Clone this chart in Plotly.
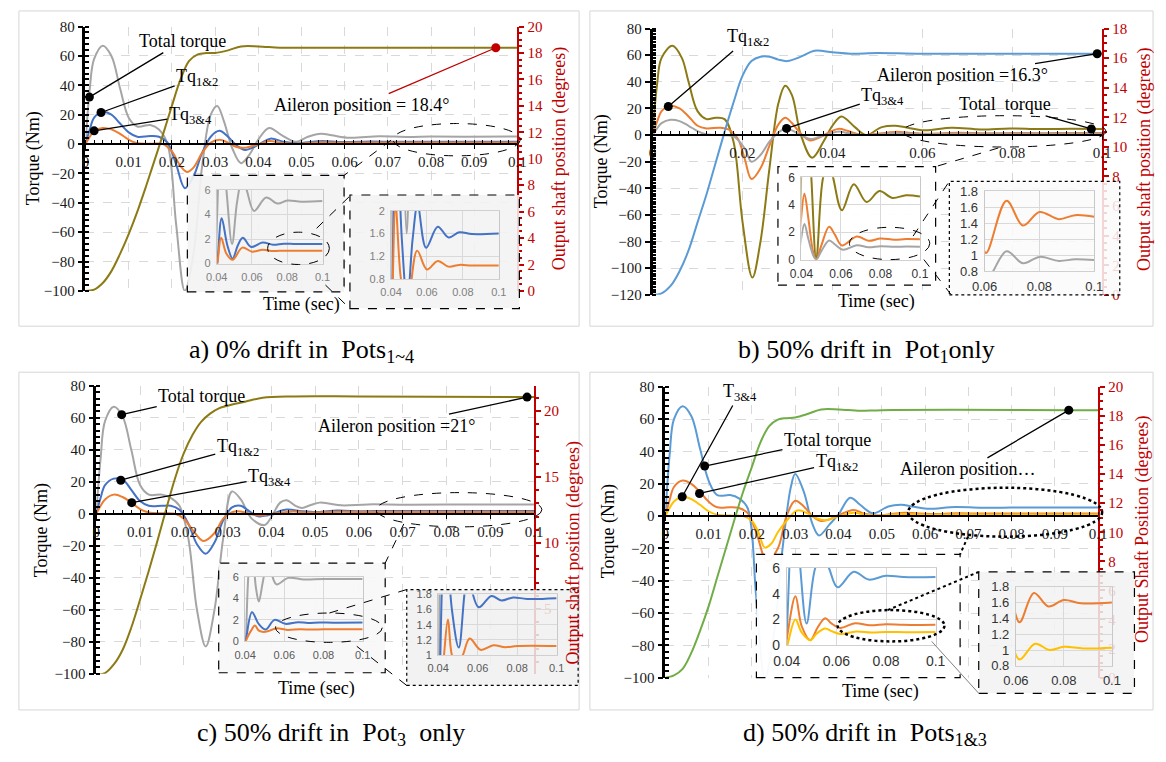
import plotly.graph_objects as go

# ------------------------------------------------------------------ data
# panel a) 0% drift
a_total_t = [0, 0.001, 0.002, 0.004, 0.006, 0.008, 0.010, 0.012, 0.015, 0.017, 0.019, 0.021, 0.023, 0.025, 0.027, 0.029, 0.0305, 0.032, 0.034, 0.036, 0.038, 0.040, 0.0425, 0.0455, 0.0487, 0.0515, 0.0545, 0.057, 0.0612, 0.068, 0.0745, 0.080, 0.088, 0.1]
a_total_v = [0, 38, 58, 67, 60, 38, 18, 12, 13, 10, 0, -55, -100, -75, -15, 20, 26, 16, -3, -13, -7, 3, 11, 6, 1.6, 5, 7, 6, 4.3, 5.4, 4.9, 5.15, 5.05, 5.1]
a_tq12_t = [0, 0.001, 0.002, 0.004, 0.006, 0.008, 0.010, 0.012, 0.015, 0.017, 0.019, 0.021, 0.023, 0.025, 0.027, 0.029, 0.031, 0.033, 0.035, 0.037, 0.039, 0.0405, 0.0428, 0.046, 0.049, 0.052, 0.0548, 0.0595, 0.066, 0.072, 0.078, 0.085, 0.1]
a_tq12_v = [0, 10, 18, 22, 20, 14, 8, 5, 5.5, 5, 1, -14, -30, -22, -6, 5, 9, 5, -1, -4, -2, 0.3, 3.7, 1.5, 0.4, 1.5, 2.1, 1.35, 1.72, 1.53, 1.62, 1.59, 1.6]
a_tq34_t = [0, 0.001, 0.002, 0.004, 0.006, 0.008, 0.010, 0.012, 0.015, 0.018, 0.020, 0.022, 0.0235, 0.025, 0.027, 0.029, 0.031, 0.033, 0.035, 0.037, 0.039, 0.0405, 0.0425, 0.0455, 0.049, 0.0545, 0.060, 0.066, 0.072, 0.078, 0.085, 0.1]
a_tq34_v = [0, 5, 9, 11, 10, 7, 3, 0.5, 0.2, 0, -5, -15, -19, -16, -6, 1, 3, 1, -2, -2.5, -1, 0.2, 2.1, 0.8, 0.3, 1.3, 0.97, 1.12, 1.02, 1.05, 1.04, 1.04]
a_ail_t = [0, 0.002, 0.004, 0.006, 0.008, 0.010, 0.012, 0.014, 0.016, 0.018, 0.020, 0.022, 0.024, 0.026, 0.028, 0.030, 0.033, 0.036, 0.040, 0.045, 0.05, 0.1]
a_ail_v = [0, 0.1, 0.6, 1.5, 2.8, 4.3, 6.0, 7.9, 9.9, 11.9, 14.0, 16.0, 17.4, 17.9, 18.0, 18.0, 18.2, 18.5, 18.5, 18.4, 18.4, 18.4]
a_call_t = [0.0009, 0.0036, 0.002, 0.095]
a_call_v = [32, 21.5, 9, 18.4]

# panel b) 50% drift in Pot1
b_total_t = [0, 0.001, 0.002, 0.0044, 0.0065, 0.008, 0.010, 0.012, 0.014, 0.016, 0.018, 0.020, 0.0222, 0.024, 0.026, 0.028, 0.0295, 0.031, 0.033, 0.0355, 0.038, 0.040, 0.042, 0.045, 0.0475, 0.051, 0.054, 0.056, 0.0605, 0.0665, 0.073, 0.0795, 0.086, 0.093, 0.1]
b_total_v = [0, 38, 58, 67, 58, 40, 18, 12, 13, 12, -5, -65, -107, -80, -25, 24, 37, 30, 0, -17, -5, 7, 14, 6, 0, 6, 7, 6, 3.6, 5.5, 4.2, 5.0, 4.5, 4.7, 4.6]
b_tq12_t = [0, 0.001, 0.002, 0.004, 0.006, 0.008, 0.010, 0.012, 0.015, 0.017, 0.019, 0.0205, 0.022, 0.024, 0.026, 0.028, 0.0295, 0.031, 0.033, 0.035, 0.037, 0.0395, 0.0415, 0.0435, 0.046, 0.0475, 0.050, 0.054, 0.057, 0.0605, 0.068, 0.074, 0.080, 0.087, 0.093, 0.1]
b_tq12_v = [0, 10, 18, 22, 20, 14, 7, 5, 5.5, 4, -3, -18, -33, -25, -8, 8, 13, 9, 1, -4, -2, 2.5, 4.8, 3, 0.5, 0, 1, 2.4, 1.8, 1.03, 1.68, 1.37, 1.54, 1.45, 1.5, 1.48]
b_tq34_t = [0, 0.001, 0.002, 0.004, 0.006, 0.008, 0.010, 0.012, 0.015, 0.018, 0.0205, 0.022, 0.024, 0.026, 0.028, 0.0295, 0.031, 0.033, 0.035, 0.037, 0.0395, 0.0415, 0.0435, 0.046, 0.0475, 0.050, 0.054, 0.057, 0.061, 0.068, 0.074, 0.080, 0.087, 0.093, 0.1]
b_tq34_v = [0, 5, 9, 11.5, 10.5, 7, 3, 0.5, 0, -1, -10, -20, -15, -5, 2, 5, 3.5, 0, -3, -1.5, 1.2, 2.6, 1.5, 0.3, 0, 0.6, 1.4, 1.1, 0.72, 1.05, 0.9, 0.98, 0.93, 0.95, 0.94]
b_ail_t = [0, 0.002, 0.004, 0.006, 0.008, 0.010, 0.012, 0.014, 0.016, 0.018, 0.020, 0.022, 0.024, 0.026, 0.028, 0.030, 0.033, 0.036, 0.040, 0.044, 0.050, 0.060, 0.1]
b_ail_v = [0, 0.1, 0.6, 1.6, 3.0, 4.9, 6.8, 8.9, 11.0, 13.0, 14.8, 15.8, 16.1, 16.1, 15.9, 15.8, 16.1, 16.5, 16.4, 16.3, 16.35, 16.3, 16.3]
b_call_t = [0.0035, 0.0298, 0.0976, 0.0989]
b_call_v = [21.5, 5, 4.6, 16.3]

# panel c) 50% drift in Pot3
c_total_t = [0, 0.001, 0.002, 0.004, 0.006, 0.008, 0.010, 0.012, 0.015, 0.017, 0.019, 0.021, 0.023, 0.025, 0.027, 0.029, 0.031, 0.033, 0.0355, 0.0385, 0.040, 0.042, 0.0435, 0.0455, 0.047, 0.049, 0.051, 0.053, 0.056, 0.062, 0.07, 0.08, 0.1]
c_total_v = [0, 35, 58, 67, 61, 40, 18, 12, 12, 10, 5, -15, -60, -83, -60, -15, 14, 9, -3, -7, -2, 7, 8.5, 5, 3.7, 5.5, 7, 6.5, 5.3, 5.9, 5.75, 5.8, 5.8]
c_tq12_t = [0, 0.001, 0.002, 0.004, 0.006, 0.008, 0.010, 0.012, 0.015, 0.017, 0.019, 0.021, 0.023, 0.025, 0.027, 0.029, 0.031, 0.033, 0.035, 0.037, 0.039, 0.0405, 0.0435, 0.047, 0.0505, 0.055, 0.0605, 0.067, 0.072, 0.078, 0.085, 0.1]
c_tq12_v = [0, 10, 18, 22, 21.5, 15, 8, 5, 5, 5, 2.5, -6, -19, -25, -18, -4, 4, 5, 1.5, -1.5, -1, 0.3, 2.7, 1.6, 1.1, 2.0, 1.63, 1.78, 1.72, 1.76, 1.74, 1.75]
c_tq34_t = [0, 0.001, 0.002, 0.004, 0.006, 0.008, 0.010, 0.012, 0.015, 0.018, 0.020, 0.022, 0.0245, 0.027, 0.029, 0.031, 0.033, 0.035, 0.037, 0.039, 0.041, 0.043, 0.045, 0.047, 0.0495, 0.0525, 0.056, 0.0615, 0.068, 0.074, 0.08, 0.1]
c_tq34_v = [0, 5, 9, 12, 10.5, 7, 3, 0.8, 0.3, 0, -3, -10, -17, -12, -3, 1, 1.5, 0, -1, -0.5, 0.3, 1.0, 1.47, 1.0, 0.88, 1.0, 1.22, 1.07, 1.13, 1.105, 1.12, 1.12]
c_ail_t = [0, 0.002, 0.004, 0.006, 0.008, 0.010, 0.012, 0.014, 0.016, 0.018, 0.020, 0.022, 0.024, 0.026, 0.028, 0.030, 0.034, 0.038, 0.045, 0.06, 0.1]
c_ail_v = [0, 0.15, 0.8, 1.9, 3.6, 5.7, 7.9, 10.2, 12.6, 14.9, 16.8, 18.2, 19.2, 19.8, 20.2, 20.4, 20.7, 21.0, 21.1, 21.1, 21.05]
c_call_t = [0.0058, 0.0056, 0.0081, 0.0984]
c_call_v = [62, 21, 7, 21.05]

# panel d) 50% drift in Pots1&3
d_total_t = [0, 0.001, 0.002, 0.004, 0.006, 0.008, 0.010, 0.012, 0.015, 0.017, 0.019, 0.021, 0.023, 0.025, 0.027, 0.029, 0.030, 0.032, 0.034, 0.0355, 0.038, 0.040, 0.0427, 0.045, 0.048, 0.0515, 0.0545, 0.057, 0.0605, 0.067, 0.073, 0.080, 0.087, 0.1]
d_total_v = [0, 38, 60, 68, 62, 42, 22, 13, 13, 11, 5, -50, -100, -75, -22, 18, 26, 15, -5, -12, -5, 1, 11.4, 7, 1.7, 6, 7, 6, 4.5, 5.7, 5.1, 5.4, 5.3, 5.3]
d_tq12_t = [0, 0.001, 0.002, 0.004, 0.006, 0.008, 0.010, 0.012, 0.015, 0.017, 0.019, 0.021, 0.0235, 0.026, 0.028, 0.030, 0.032, 0.034, 0.036, 0.038, 0.040, 0.0435, 0.046, 0.0495, 0.0525, 0.0555, 0.058, 0.0615, 0.0675, 0.0735, 0.080, 0.087, 0.1]
d_tq12_v = [0, 10, 18, 22, 20, 15, 9, 5.5, 5.5, 5, 2, -10, -28, -20, 0, 9.5, 6, 0, -3, -2, 0.5, 3.8, 1.5, 0.4, 1.4, 2.1, 1.7, 1.35, 1.72, 1.55, 1.63, 1.59, 1.6]
d_tq34_t = [0, 0.001, 0.002, 0.004, 0.006, 0.008, 0.010, 0.012, 0.015, 0.018, 0.020, 0.0215, 0.023, 0.0245, 0.026, 0.028, 0.0305, 0.033, 0.035, 0.037, 0.039, 0.0405, 0.0435, 0.046, 0.0495, 0.052, 0.0555, 0.058, 0.0615, 0.068, 0.074, 0.080, 0.088, 0.1]
d_tq34_v = [0, 5, 9, 12, 10.5, 7, 3, 0.8, 0.3, 0, -3, -10, -19.5, -17, -10, -3, 3.5, 1.5, -1.5, -2.5, -1, 0.2, 2.0, 1.0, 0.4, 0.9, 1.3, 1.1, 0.88, 1.08, 1.0, 1.04, 1.02, 1.03]
d_ail_t = [0, 0.002, 0.004, 0.006, 0.008, 0.010, 0.012, 0.014, 0.016, 0.018, 0.020, 0.022, 0.024, 0.026, 0.028, 0.030, 0.033, 0.036, 0.040, 0.045, 0.05, 0.1]
d_ail_v = [0, 0.15, 0.6, 1.7, 3.2, 4.9, 6.9, 8.9, 10.9, 12.8, 14.5, 16.2, 17.3, 17.75, 17.85, 17.9, 18.15, 18.45, 18.45, 18.35, 18.4, 18.4]
d_call_t = [0.0039, 0.0091, 0.0079, 0.0932]
d_call_v = [12, 31, 14, 18.4]

captions = ["a) 0% drift in  Pots<sub>1~4</sub>", "b) 50% drift in  Pot<sub>1</sub>only",
            "c) 50% drift in  Pot<sub>3</sub>  only", "d) 50% drift in  Pots<sub>1&amp;3</sub>"]

# ------------------------------------------------------------------ style
W, H = 1166, 762
SERIF = "Liberation Serif"
SANS = "Liberation Sans"
GRAY, BLUE, LBLUE = "#a5a5a5", "#4472c4", "#5b9bd5"
ORANGE, YELLOW, GREEN = "#ed7d31", "#ffc000", "#70ad47"
OLIVE, RED = "#8c7a14", "#c00000"

fig = go.Figure()
layout = {}
shapes = []
annots = []
cnt = {"x": 0, "y": 0}


def nxt(k):
    cnt[k] += 1
    return cnt[k]


def key(k, n):
    return f"{k}axis" + ("" if n == 1 else str(n))


def ref(k, n):
    return k + ("" if n == 1 else str(n))


def fx(px):
    return px / W


def fy(py):
    return 1 - py / H


def line_shape(x0, y0, x1, y1, dash="dash", color="black", width=1):
    shapes.append(dict(type="line", xref="paper", yref="paper", x0=fx(x0), y0=fy(y0), x1=fx(x1), y1=fy(y1),
                       line=dict(color=color, width=width, dash=dash), layer="above"))


def ellipse(x0, y0, x1, y1, dash="dash", width=1):
    shapes.append(dict(type="circle", xref="paper", yref="paper", x0=fx(x0), y0=fy(y1), x1=fx(x1), y1=fy(y0),
                       line=dict(color="black", width=width, dash=dash), layer="above"))


def text(x, y, s, size=18, color="black", angle=0, family=SERIF):
    annots.append(dict(x=fx(x), y=fy(y), xref="paper", yref="paper", text=s, showarrow=False, textangle=angle,
                       font=dict(family=family, size=size, color=color), xanchor="center", yanchor="middle"))


def build(P):
    x0, x1, y0, y1 = P["plot"]
    lo, hi = P["yrange"]
    yzero = y0 + hi / (hi - lo) * (y1 - y0)
    xn, yn, y2n = nxt("x"), nxt("y"), nxt("y")
    tickfont = dict(family=SERIF, size=15, color="#1a1a1a")
    layout[key("x", xn)] = dict(
        domain=[fx(x0), fx(x1)], range=[0, 0.1], anchor="free", position=fy(yzero), tick0=0, dtick=P["xdt"],
        showline=True, linecolor="black", linewidth=2, ticks="outside", ticklen=4, tickcolor="black",
        minor=dict(dtick=0.002, ticks="inside", ticklen=3, tickcolor="black", showgrid=False),
        showgrid=True, gridcolor="#d9d9d9", griddash="dash", zeroline=False, tickfont=tickfont)
    layout[key("y", yn)] = dict(
        domain=[fy(y1), fy(y0)], range=[lo, hi], anchor=ref("x", xn), tick0=0, dtick=20,
        showline=True, linecolor="black", linewidth=2.5, ticks="outside", ticklen=5, tickcolor="black",
        tickwidth=1.5,
        minor=dict(dtick=P["ymin"], ticks="inside", ticklen=4, tickcolor="black", showgrid=False),
        showgrid=True, gridcolor="#d9d9d9", griddash="dash", zeroline=False, tickfont=tickfont)
    layout[key("y", y2n)] = dict(
        overlaying=ref("y", yn), side="right", anchor=ref("x", xn), range=P["y2range"], tick0=0,
        dtick=P["y2dt"], showline=True, linecolor=RED, linewidth=2, ticks="outside", ticklen=5, tickcolor=RED,
        tickwidth=1.5,
        minor=dict(dtick=P["y2min"], ticks="outside", ticklen=3, tickcolor=RED, showgrid=False),
        showgrid=False, zeroline=False, tickfont=dict(family=SERIF, size=15, color=RED))
    X, Y, Y2 = ref("x", xn), ref("y", yn), ref("y", y2n)
    for t, v, c in P["series"]:
        fig.add_trace(go.Scatter(x=t, y=v, mode="lines", line=dict(color=c, width=2, shape="spline"),
                                 xaxis=X, yaxis=Y, hoverinfo="skip", showlegend=False))
    t, v, c = P["ail"]
    fig.add_trace(go.Scatter(x=t, y=v, mode="lines", line=dict(color=c, width=2, shape="spline"),
                             xaxis=X, yaxis=Y2, hoverinfo="skip", showlegend=False))
    # callout dots + leader lines
    ct, cv = P["call"]
    fig.add_trace(go.Scatter(x=ct[:-1], y=cv[:-1], mode="markers", marker=dict(color="black", size=9),
                             xaxis=X, yaxis=Y, hoverinfo="skip", showlegend=False))
    fig.add_trace(go.Scatter(x=ct[-1:], y=cv[-1:], mode="markers", marker=dict(color=P["aildot"], size=9),
                             xaxis=X, yaxis=Y2, hoverinfo="skip", showlegend=False))
    lo2, hi2 = P["y2range"]
    for i, (lab, lx, ly) in enumerate(P["labels"]):
        right = i == len(ct) - 1
        px = x0 + ct[i] / 0.1 * (x1 - x0)
        if right:
            py = y0 + (hi2 - cv[i]) / (hi2 - lo2) * (y1 - y0)
        else:
            py = y0 + (hi - cv[i]) / (hi - lo) * (y1 - y0)
        annots.append(dict(x=ct[i], y=cv[i], xref=X, yref=Y2 if right else Y, text=lab, showarrow=True,
                           arrowhead=0, arrowwidth=1.3, arrowcolor=P["aildot"] if right else "black",
                           ax=lx - px, ay=ly - py, standoff=0,
                           font=dict(family=SERIF, size=18, color="black")))
    # insets
    for I in P["insets"]:
        bl, bt, br, bb = I["box"]
        bx, by = nxt("x"), nxt("y")
        layout[key("x", bx)] = dict(domain=[fx(bl), fx(br)], range=[0, 1], visible=False, anchor=ref("y", by))
        layout[key("y", by)] = dict(domain=[fy(bb), fy(bt)], range=[0, 1], visible=False, anchor=ref("x", bx))
        fig.add_trace(go.Scatter(x=[0, 1, 1, 0, 0], y=[0, 0, 1, 1, 0], fill="toself", fillcolor=I["fill"],
                                 mode="lines", line=dict(width=0), xaxis=ref("x", bx), yaxis=ref("y", by),
                                 hoverinfo="skip", showlegend=False))
        pl, pt, pr, pb = I["plot"]
        ix, iy = nxt("x"), nxt("y")
        ifont = dict(family=SANS, size=I["fs"], color=I["fc"])
        layout[key("x", ix)] = dict(domain=[fx(pl), fx(pr)], range=I["xr"], tick0=0, dtick=0.02,
                                    anchor=ref("y", iy), showgrid=True, gridcolor="#d9d9d9", showline=True,
                                    mirror=True, linecolor="#d0d0d0", zeroline=False, ticks="", tickfont=ifont,
                                    ticklabelstandoff=3)
        layout[key("y", iy)] = dict(domain=[fy(pb), fy(pt)], range=I["yr"], tick0=0, dtick=I["ydt"],
                                    anchor=ref("x", ix), showgrid=True, gridcolor="#d9d9d9", showline=True,
                                    mirror=True, linecolor="#c8c8c8", zeroline=False, ticks="", tickfont=ifont,
                                    ticklabelstandoff=3)
        for t, v, c in P["series"]:
            fig.add_trace(go.Scatter(x=t, y=v, mode="lines", line=dict(color=c, width=2, shape="spline"),
                                     xaxis=ref("x", ix), yaxis=ref("y", iy), hoverinfo="skip", showlegend=False))
        shapes.append(dict(type="rect", xref="paper", yref="paper", x0=fx(bl), y0=fy(bb), x1=fx(br), y1=fy(bt),
                           line=dict(color="black", width=1.2, dash=I["dash"]), layer="above"))


panels = [
    dict(plot=(73, 514, 19, 289), yrange=(-100, 80), ymin=4, y2range=(0, 20), y2dt=2, y2min=0.5, xdt=0.01,
         series=[(a_total_t, a_total_v, GRAY), (a_tq12_t, a_tq12_v, BLUE), (a_tq34_t, a_tq34_v, ORANGE)],
         ail=(a_ail_t, a_ail_v, OLIVE), call=(a_call_t, a_call_v), aildot=RED,
         labels=[("Total torque", 170, 35), ("Tq<sub>1&amp;2</sub>", 185, 72), ("Tq<sub>3&amp;4</sub>", 178, 110),
                 ("Aileron position = 18.4°", 358, 98)],
         insets=[dict(box=(177, 171, 337, 290), plot=(207, 186, 315, 261), xr=[0.04, 0.1], yr=[0, 6], ydt=2,
                      fill="rgba(243,243,243,0.92)", fs=11, fc="#808080", dash="dash"),
                 dict(box=(343, 191, 516, 307), plot=(385, 207, 495, 277), xr=[0.04, 0.1], yr=[0.8, 2], ydt=0.4,
                      fill="rgba(243,243,243,0.88)", fs=11, fc="#808080", dash="dash")]),
    dict(plot=(652, 1111, 21, 293), yrange=(-120, 80), ymin=2, y2range=(0, 18), y2dt=2, y2min=0.5, xdt=0.02,
         series=[(b_total_t, b_total_v, OLIVE), (b_tq12_t, b_tq12_v, ORANGE), (b_tq34_t, b_tq34_v, GRAY)],
         ail=(b_ail_t, b_ail_v, LBLUE), call=(b_call_t, b_call_v), aildot="black",
         labels=[("Tq<sub>1&amp;2</sub>", 748, 32), ("Tq<sub>3&amp;4</sub>", 885, 91), ("Total  torque", 1014, 99),
                 ("Aileron position =16.3°", 971, 68)],
         insets=[dict(box=(780, 162, 941, 283), plot=(804, 173, 925, 257), xr=[0.04, 0.1], yr=[0, 6], ydt=2,
                      fill="rgba(255,255,255,0.95)", fs=12, fc="#333333", dash="dash"),
                 dict(box=(955, 177, 1129, 293), plot=(991, 187, 1103, 269), xr=[0.06, 0.1], yr=[0.8, 1.8], ydt=0.2,
                      fill="rgba(250,250,250,0.85)", fs=13, fc="#333333", dash="dot")]),
    dict(plot=(84, 531, 386, 680), yrange=(-100, 80), ymin=4, y2range=(0.1, 21.9), y2dt=5, y2min=1, xdt=0.01,
         series=[(c_total_t, c_total_v, GRAY), (c_tq12_t, c_tq12_v, BLUE), (c_tq34_t, c_tq34_v, ORANGE)],
         ail=(c_ail_t, c_ail_v, OLIVE), call=(c_call_t, c_call_v), aildot="black",
         labels=[("Total torque", 190, 397), ("Tq<sub>1&amp;2</sub>", 226, 450), ("Tq<sub>3&amp;4</sub>", 258, 480),
                 ("Aileron position =21°", 393, 426)],
         insets=[dict(box=(209, 567, 379, 679), plot=(236, 581, 356, 647), xr=[0.04, 0.1], yr=[0, 6], ydt=2,
                      fill="rgba(248,248,248,0.93)", fs=11, fc="#595959", dash="dash"),
                 dict(box=(401, 594, 576, 692), plot=(433, 599, 554, 661), xr=[0.04, 0.1], yr=[1, 1.8], ydt=0.2,
                      fill="rgba(240,240,240,0.85)", fs=11, fc="#595959", dash="dot")]),
    dict(plot=(665, 1107, 387, 684), yrange=(-100, 80), ymin=4, y2range=(0, 20), y2dt=2, y2min=0.5, xdt=0.01,
         series=[(d_total_t, d_total_v, LBLUE), (d_tq12_t, d_tq12_v, ORANGE), (d_tq34_t, d_tq34_v, YELLOW)],
         ail=(d_ail_t, d_ail_v, GREEN), call=(d_call_t, d_call_v), aildot="black",
         labels=[("T<sub>3&amp;4</sub>", 740, 395), ("Total torque", 828, 442), ("Tq<sub>1&amp;2</sub>", 837, 465),
                 ("Aileron position…", 976, 470)],
         insets=[dict(box=(758, 558, 966, 684), plot=(789, 572, 941, 651), xr=[0.04, 0.1], yr=[0, 6], ydt=2,
                      fill="rgba(255,255,255,0.95)", fs=14, fc="#333333", dash="dash"),
                 dict(box=(985, 576, 1144, 700), plot=(1023, 591, 1121, 672), xr=[0.06, 0.1], yr=[0.8, 1.8], ydt=0.2,
                      fill="rgba(242,242,242,0.85)", fs=13, fc="#333333", dash="dash")]),
]

# panel frames
for (l, t, r, b) in [(5, 3, 577, 325), (588, 3, 1163, 325), (5, 372, 577, 717), (588, 372, 1163, 717)]:
    shapes.append(dict(type="rect", xref="paper", yref="paper", x0=fx(l), y0=fy(b), x1=fx(r), y1=fy(t),
                       line=dict(color="#d6d6d6", width=1), layer="below"))

for P in panels:
    build(P)

# zoom ellipses and connectors
ellipse(387, 118, 517, 151); ellipse(259, 229, 322, 262)
line_shape(385, 135, 337, 171); line_shape(309, 225, 343, 192); line_shape(318, 283, 343, 307)
ellipse(907, 110, 1115, 142); ellipse(853, 224, 935, 257)
line_shape(1005, 143, 941, 162); line_shape(918, 233, 955, 177); line_shape(929, 257, 957, 293)
ellipse(370, 495, 539, 530); ellipse(267, 618, 376, 648)
line_shape(398, 527, 379, 567); line_shape(322, 618, 401, 594); line_shape(350, 652, 401, 692)
ellipse(913, 490, 1111, 540, dash="dot", width=2.5); ellipse(841, 615, 950, 647, dash="dot", width=2.5)
line_shape(974, 540, 966, 558, dash="dot", width=2); line_shape(892, 615, 985, 576, dash="dot", width=2)
line_shape(937, 647, 985, 700, dash="solid", color="#808080", width=1)

# axis titles, time labels, captions
text(20, 154, "Torque (Nm)", angle=-90); text(557, 154, "Output shaft position (degrees)", color=RED, angle=-90)
text(600, 157, "Torque (Nm)", angle=-90); text(1154, 155, "Output shaft position (degrees)", color=RED, angle=-90)
text(28, 533, "Torque (Nm)", angle=-90); text(571, 557, "Output shaft position (degrees)", color=RED, angle=-90)
text(607, 535, "Torque (Nm)", angle=-90); text(1153, 533, "Output Shaft Position (degrees)", color=RED, angle=-90)
text(294, 303, "Time (sec)"); text(881, 300, "Time (sec)"); text(309, 695, "Time (sec)"); text(885, 698, "Time (sec)")
for (cx, cy), cap in zip([(294, 350), (870, 350), (324, 742), (869, 742)], captions):
    text(cx, cy, cap, size=26)

fig.update_layout(**layout)
fig.update_layout(width=W, height=H, autosize=False, margin=dict(l=0, r=0, t=0, b=0), showlegend=False,
                  paper_bgcolor="white", plot_bgcolor="rgba(0,0,0,0)", shapes=shapes, annotations=annots,
                  hovermode=False)
fig.write_html("out.html")
